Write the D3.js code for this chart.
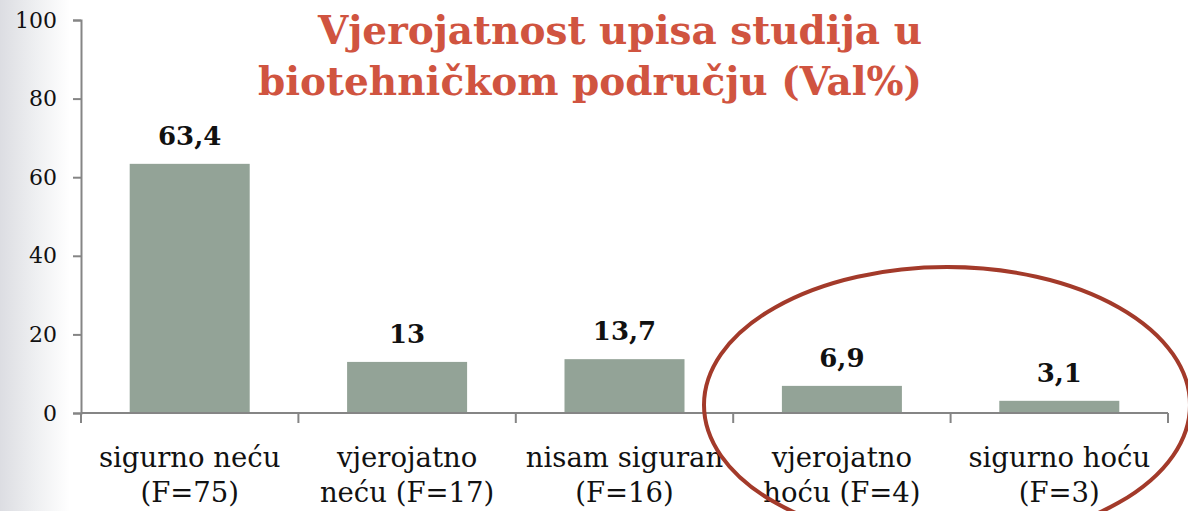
<!DOCTYPE html>
<html>
<head>
<meta charset="utf-8">
<script src="https://cdn.jsdelivr.net/npm/d3@7"></script>
<style>
  html, body { margin: 0; padding: 0; background: #fff; }
  svg { display: block; }
  text { font-family: "DejaVu Serif", "Liberation Serif", serif; }
</style>
</head>
<body>
<svg id="chart" width="1188" height="511"></svg>
<script>
// Response categories, two lines each
const categoryLine1 = ["sigurno neću", "vjerojatno", "nisam siguran", "vjerojatno", "sigurno hoću"];
const categoryLine2 = ["(F=75)", "neću (F=17)", "(F=16)", "hoću (F=4)", "(F=3)"];
// Valid percent per response
const valPercent = [63.4, 13, 13.7, 6.9, 3.1];
const valLabels = ["63,4", "13", "13,7", "6,9", "3,1"];
const yTicks = [0, 20, 40, 60, 80, 100];
const titleLines = ["Vjerojatnost upisa studija u", "biotehničkom području (Val%)"];

const W = 1188, H = 511;
const svg = d3.select("#chart");

// faint textured edge on the left
const defs = svg.append("defs");
const grad = defs.append("linearGradient").attr("id", "edge").attr("x1", 0).attr("x2", 1);
grad.append("stop").attr("offset", 0).attr("stop-color", "#dcdde2");
grad.append("stop").attr("offset", 0.5).attr("stop-color", "#eeeff1");
grad.append("stop").attr("offset", 1).attr("stop-color", "#ffffff");
svg.append("rect").attr("x", 0).attr("y", 0).attr("width", 70).attr("height", H).attr("fill", "url(#edge)");

const plot = { left: 81, right: 1168, top: 20, bottom: 413 };

const x = d3.scaleBand()
  .domain(d3.range(valPercent.length))
  .range([plot.left, plot.right])
  .paddingInner(0.448)
  .paddingOuter(0.224);

const y = d3.scaleLinear().domain([0, 100]).range([plot.bottom, plot.top]);

const axisColor = "#858585";

// bars
svg.append("g").selectAll("rect")
  .data(valPercent)
  .join("rect")
  .attr("x", (d, i) => x(i))
  .attr("y", d => y(d))
  .attr("width", x.bandwidth())
  .attr("height", d => y(0) - y(d))
  .attr("fill", "#93a397");

// y axis
const yAxis = svg.append("g")
  .attr("transform", `translate(${plot.left},0)`)
  .call(d3.axisLeft(y).tickValues(yTicks).tickSize(8).tickPadding(16));
yAxis.select(".domain").attr("stroke", axisColor).attr("stroke-width", 2);
yAxis.selectAll(".tick line").attr("stroke", axisColor).attr("stroke-width", 2);
yAxis.selectAll(".tick text")
  .attr("fill", "#111")
  .style("font-size", "22px")
  .style("font-family", "DejaVu Serif, serif");

// x axis: line with ticks at category boundaries
const boundaries = d3.range(valPercent.length + 1).map(i => plot.left + i * (plot.right - plot.left) / valPercent.length);
svg.append("line")
  .attr("x1", plot.left).attr("x2", plot.right)
  .attr("y1", y(0)).attr("y2", y(0))
  .attr("stroke", axisColor).attr("stroke-width", 2);
svg.append("g").selectAll("line")
  .data(boundaries)
  .join("line")
  .attr("x1", d => d).attr("x2", d => d)
  .attr("y1", y(0)).attr("y2", y(0) + 10)
  .attr("stroke", axisColor).attr("stroke-width", 2);

// category labels
const catG = svg.append("g");
catG.selectAll("text.l1")
  .data(categoryLine1)
  .join("text")
  .attr("class", "l1")
  .attr("x", (d, i) => x(i) + x.bandwidth() / 2)
  .attr("y", 467)
  .attr("text-anchor", "middle")
  .attr("fill", "#111")
  .style("font-size", "27.5px")
  .text(d => d);
catG.selectAll("text.l2")
  .data(categoryLine2)
  .join("text")
  .attr("class", "l2")
  .attr("x", (d, i) => x(i) + x.bandwidth() / 2)
  .attr("y", 502)
  .attr("text-anchor", "middle")
  .attr("fill", "#111")
  .style("font-size", "27.5px")
  .text(d => d);

// value labels
svg.append("g").selectAll("text")
  .data(valPercent)
  .join("text")
  .attr("x", (d, i) => x(i) + x.bandwidth() / 2)
  .attr("y", d => y(d) - 19)
  .attr("text-anchor", "middle")
  .attr("fill", "#111")
  .style("font-size", "26px")
  .style("font-weight", "bold")
  .text((d, i) => valLabels[i]);

// title
svg.append("g").selectAll("text")
  .data(titleLines)
  .join("text")
  .attr("x", 922)
  .attr("y", (d, i) => 44 + i * 51)
  .attr("text-anchor", "end")
  .attr("fill", "#d05440")
  .style("font-size", "39px")
  .style("font-weight", "bold")
  .text(d => d);

// highlight ring around the two positive responses
svg.append("ellipse")
  .attr("cx", 947).attr("cy", 405)
  .attr("rx", 243).attr("ry", 138)
  .attr("fill", "none")
  .attr("stroke", "#a33a2a")
  .attr("stroke-width", 4);
</script>
</body>
</html>
